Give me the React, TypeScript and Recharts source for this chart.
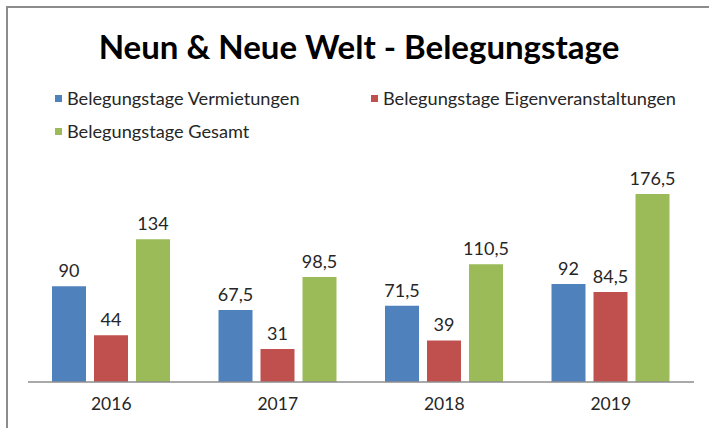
import { BarChart, Bar, XAxis, YAxis, LabelList } from 'recharts';

const years = ['2016', '2017', '2018', '2019'];
const vermietungen = [90, 67.5, 71.5, 92];
const eigenveranstaltungen = [44, 31, 39, 84.5];
const gesamt = [134, 98.5, 110.5, 176.5];

const seriesNames = [
    'Belegungstage Vermietungen',
    'Belegungstage Eigenveranstaltungen',
    'Belegungstage Gesamt'
];
const colors = ['#4F81BD', '#C0504D', '#9BBB59'];

const data = years.map((y, i) => ({
    year: y,
    v: vermietungen[i],
    e: eigenveranstaltungen[i],
    g: gesamt[i]
}));

const FONT = 'Lato, "Open Sans", sans-serif';

// german decimal comma
const fmt = (v: any) => String(v).replace('.', ',');

function LegendBox() {
    const item = (i: number, left: number, top: number) => (
        <div
            key={i}
            style={{ position: 'absolute', left, top, display: 'flex', alignItems: 'center', whiteSpace: 'nowrap', lineHeight: '22px' }}
        >
            <span style={{ width: 7, height: 7, background: colors[i], marginRight: 5, display: 'inline-block' }} />
            <span>{seriesNames[i]}</span>
        </div>
    );
    return (
        <div style={{ position: 'absolute', left: 0, top: 0, fontFamily: FONT, fontSize: 18.2, color: '#262626' }}>
            {item(0, 55, 87)}
            {item(1, 371, 87)}
            {item(2, 55, 120)}
        </div>
    );
}

export default function App() {
    return (
        <div style={{ position: 'absolute', left: 0, top: 0, width: 709, height: 428, background: '#fff', overflow: 'hidden' }}>
            {/* frame: only left + top visible in the crop */}
            <div
                style={{
                    position: 'absolute',
                    left: 6,
                    top: 6,
                    width: 720,
                    height: 440,
                    borderLeft: '2px solid #8c8c8c',
                    borderTop: '2px solid #8c8c8c'
                }}
            />
            <div
                style={{
                    position: 'absolute',
                    left: 0,
                    width: 718,
                    top: 24,
                    lineHeight: '44px',
                    textAlign: 'center',
                    fontFamily: FONT,
                    fontWeight: 700,
                    fontSize: 33,
                    color: '#000'
                }}
            >
                Neun &amp; Neue Welt - Belegungstage
            </div>
            <LegendBox />
            <div style={{ position: 'absolute', left: 0, top: 0 }}>
                <BarChart
                    width={709}
                    height={428}
                    data={data}
                    margin={{ top: 169, right: 15, bottom: 16, left: 28 }}
                    barSize={34}
                    barGap={8}
                >
                    <XAxis
                        dataKey="year"
                        stroke="#8c8c8c"
                        strokeWidth={1.5}
                        tickLine={false}
                        tick={{ fill: '#262626', fontSize: 17.5, fontFamily: FONT }}
                        tickMargin={10}
                    />
                    <YAxis hide domain={[0, 200]} />
                    <Bar dataKey="v" name={seriesNames[0]} fill={colors[0]} isAnimationActive={false}>
                        <LabelList dataKey="v" position="top" offset={9} formatter={fmt} fill="#262626" fontSize={18} fontFamily={FONT} />
                    </Bar>
                    <Bar dataKey="e" name={seriesNames[1]} fill={colors[1]} isAnimationActive={false}>
                        <LabelList dataKey="e" position="top" offset={9} formatter={fmt} fill="#262626" fontSize={18} fontFamily={FONT} />
                    </Bar>
                    <Bar dataKey="g" name={seriesNames[2]} fill={colors[2]} isAnimationActive={false}>
                        <LabelList dataKey="g" position="top" offset={9} formatter={fmt} fill="#262626" fontSize={18} fontFamily={FONT} />
                    </Bar>
                </BarChart>
            </div>
        </div>
    );
}
